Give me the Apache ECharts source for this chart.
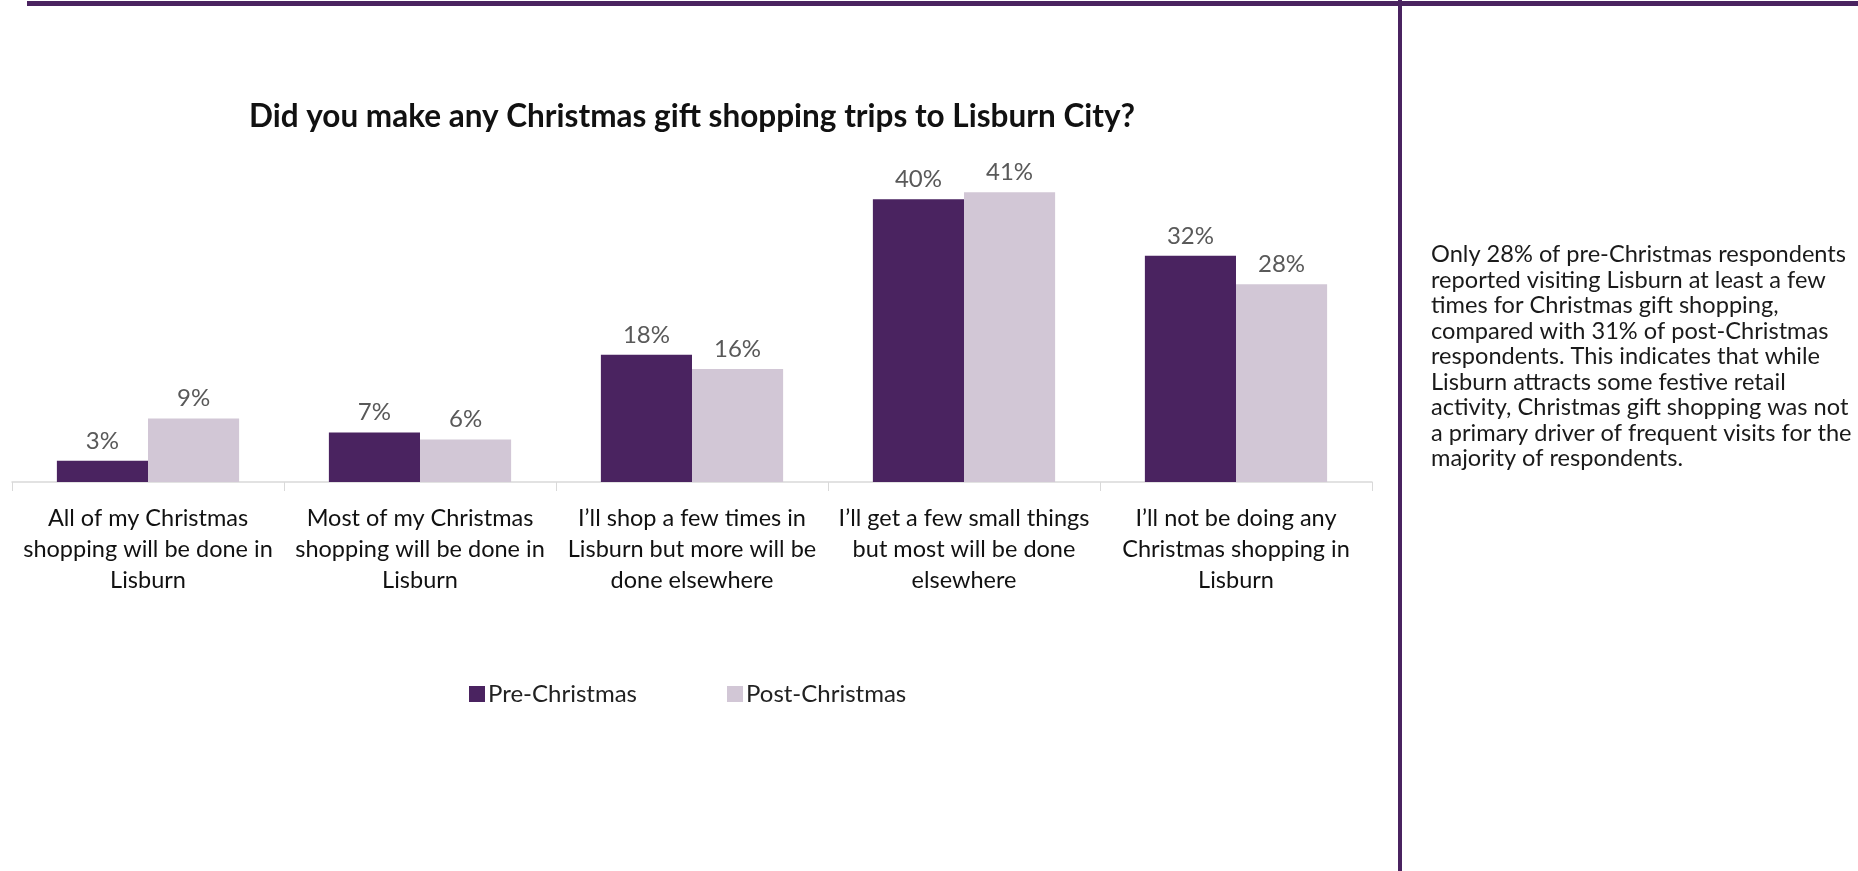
<!DOCTYPE html>
<html>
<head>
<meta charset="utf-8">
<script src="https://cdn.jsdelivr.net/npm/echarts@6/dist/echarts.min.js"></script>
<style>
  html, body { margin: 0; padding: 0; background: #ffffff; }
  #chart { width: 1858px; height: 871px; }
</style>
</head>
<body>
<div id="chart"></div>
<script>
// Survey answers (axis categories, wrapped as printed)
const categories = [
  'All of my Christmas\nshopping will be done in\nLisburn',
  'Most of my Christmas\nshopping will be done in\nLisburn',
  'I\u2019ll shop a few times in\nLisburn but more will be\ndone elsewhere',
  'I\u2019ll get a few small things\nbut most will be done\nelsewhere',
  'I\u2019ll not be doing any\nChristmas shopping in\nLisburn'
];
// Share of respondents, percent
const preChristmas = [3, 7, 18, 40, 32];
const postChristmas = [9, 6, 16, 41, 28];
const seriesNames = ['Pre-Christmas', 'Post-Christmas'];

const titleText = 'Did you make any Christmas gift shopping trips to Lisburn City?';
const commentaryLines = [
  'Only 28% of pre-Christmas respondents',
  'reported visiting Lisburn at least a few',
  'times for Christmas gift shopping,',
  'compared with 31% of post-Christmas',
  'respondents. This indicates that while',
  'Lisburn attracts some festive retail',
  'activity, Christmas gift shopping was not',
  'a primary driver of frequent visits for the',
  'majority of respondents.'
];

const FONT = 'Lato, "Open Sans", sans-serif';
const PURPLE = '#4a2360';
const LILAC = '#d2c7d6';

const chart = echarts.init(document.getElementById('chart'), null, { renderer: 'canvas' });

const labelStyle = {
  show: true,
  position: 'top',
  distance: 8,
  formatter: p => p.value + '%',
  color: '#595959',
  fontFamily: FONT,
  fontSize: 24
};

chart.setOption({
  backgroundColor: '#ffffff',
  animation: false,
  title: {
    text: titleText,
    left: 687,
    top: 96,
    textAlign: 'center',
    textStyle: { fontFamily: FONT, fontWeight: 'bold', fontSize: 31.5, color: '#111111' }
  },
  legend: {
    data: seriesNames,
    left: 469,
    top: 682,
    padding: 0,
    itemWidth: 16,
    itemHeight: 16,
    itemGap: 90,
    icon: 'rect',
    textStyle: { fontFamily: FONT, fontSize: 24, color: '#222222', padding: [0, 0, 0, -2] }
  },
  grid: { left: 12, right: 486, top: 164, bottom: 389, containLabel: false },
  xAxis: {
    type: 'category',
    data: categories,
    axisLine: { lineStyle: { color: '#d9d9d9', width: 1.5 } },
    axisTick: { show: true, length: 9, lineStyle: { color: '#d9d9d9' } },
    axisLabel: {
      interval: 0,
      margin: 21,
      color: '#111111',
      fontFamily: FONT,
      fontSize: 23.5,
      lineHeight: 31
    }
  },
  yAxis: {
    type: 'value',
    min: 0,
    max: 45,
    show: false,
    splitLine: { show: false }
  },
  series: [
    {
      name: seriesNames[0],
      type: 'bar',
      data: preChristmas,
      itemStyle: { color: PURPLE },
      barGap: '0%',
      barCategoryGap: '33%',
      label: labelStyle
    },
    {
      name: seriesNames[1],
      type: 'bar',
      data: postChristmas,
      itemStyle: { color: LILAC },
      barGap: '0%',
      barCategoryGap: '33%',
      label: labelStyle
    }
  ],
  graphic: [
    // page frame: top rule and column divider
    { type: 'rect', shape: { x: 27, y: 1, width: 1831, height: 5 }, style: { fill: PURPLE }, silent: true },
    { type: 'rect', shape: { x: 1398, y: 0, width: 4, height: 871 }, style: { fill: PURPLE }, silent: true },
    {
      type: 'text',
      left: 1431,
      top: 242,
      style: {
        text: commentaryLines.join('\n'),
        fontFamily: FONT,
        fontSize: 23.6,
        lineHeight: 25.5,
        fill: '#1a1a1a'
      },
      silent: true
    }
  ]
});
</script>
</body>
</html>
